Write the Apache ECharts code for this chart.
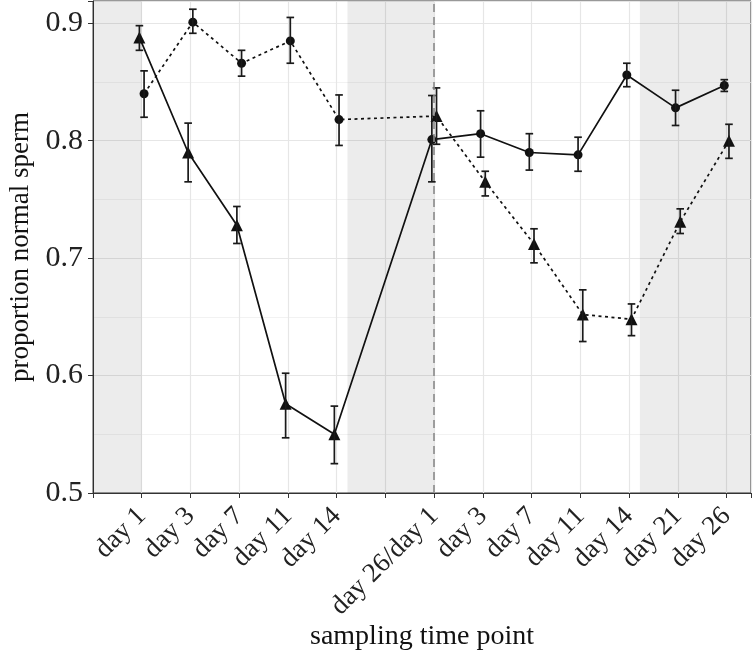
<!DOCTYPE html>
<html>
<head>
<meta charset="utf-8">
<script src="https://cdn.jsdelivr.net/npm/echarts@6/dist/echarts.min.js"></script>
<style>html,body{margin:0;padding:0;background:#fff;}#chart{width:756px;height:653px;}</style>
</head>
<body>
<div id="chart"></div>
<script>
// ---- data ----
const tickLabels = ['day 1','day 3','day 7','day 11','day 14','','day 26/day 1','day 3','day 7','day 11','day 14','day 21','day 26'];
const timeIndex = [0,1,2,3,4,6,7,8,9,10,11,12];
// group A (dotted line)
const groupAMean = [0.840,0.901,0.866,0.885,0.818,0.821,0.765,0.712,0.652,0.648,0.731,0.800];
const groupALow  = [0.820,0.8915,0.855,0.866,0.796,0.797,0.753,0.696,0.629,0.634,0.721,0.785];
const groupAHigh = [0.8595,0.912,0.877,0.905,0.839,0.845,0.774,0.725,0.673,0.661,0.742,0.814];
const groupAShape = ['circle','circle','circle','circle','circle','triangle','triangle','triangle','triangle','triangle','triangle','triangle'];
// group B (solid line)
const groupBMean = [0.888,0.790,0.728,0.576,0.550,0.801,0.806,0.790,0.788,0.856,0.828,0.847];
const groupBLow  = [0.877,0.765,0.7125,0.547,0.525,0.765,0.786,0.775,0.774,0.846,0.813,0.842];
const groupBHigh = [0.898,0.815,0.744,0.602,0.574,0.8385,0.8255,0.806,0.803,0.866,0.843,0.852];
const groupBShape = ['triangle','triangle','triangle','triangle','triangle','circle','circle','circle','circle','circle','circle','circle'];
// shaded phases (in time-index units)
const shadedPhases = [[-1,0],[4.22,6],[10.22,12.5]];
const phaseBoundary = 6;
const yTicks = [0.5,0.6,0.7,0.8,0.9];

// ---- build ----
const DODGE = 0.048;
const FONT = 'Liberation Serif';
function lineData(mean, shape, dodge){
  return timeIndex.map((t,i)=>({value:[t+dodge, mean[i]], symbol: shape[i], symbolSize: shape[i]==='triangle'?12:9}));
}
function errData(low, high, dodge){
  return timeIndex.map((t,i)=>[t+dodge, low[i], high[i]]);
}
function errRender(params, api){
  const x = api.value(0);
  const p1 = api.coord([x, api.value(1)]);
  const p2 = api.coord([x, api.value(2)]);
  const hw = 3.8;
  const st = {stroke:'#1a1a1a', lineWidth:1.7, fill:null};
  return {type:'group', children:[
    {type:'line', shape:{x1:p1[0],y1:p1[1],x2:p2[0],y2:p2[1]}, style:st},
    {type:'line', shape:{x1:p1[0]-hw,y1:p1[1],x2:p1[0]+hw,y2:p1[1]}, style:st},
    {type:'line', shape:{x1:p2[0]-hw,y1:p2[1],x2:p2[0]+hw,y2:p2[1]}, style:st}
  ]};
}

const chart = echarts.init(document.getElementById('chart'), null, {renderer:'canvas'});
chart.setOption({
  animation:false,
  backgroundColor:'#fff',
  grid:{left:93, right:5, top:1, bottom:160, show:true, borderColor:'#333', borderWidth:1, backgroundColor:'transparent'},
  xAxis:{
    type:'value', min:-1, max:12.5, interval:1,
    axisLine:{show:true, onZero:false, lineStyle:{color:'#333', width:1}},
    axisTick:{show:true, length:5, lineStyle:{color:'#333', width:1}},
    axisLabel:{rotate:45, margin:19, color:'#222', fontFamily:FONT, fontSize:27,
      formatter:(v)=>{const i=Math.round(v); return (i>=0 && i<tickLabels.length)? tickLabels[i] : '';}},
    splitLine:{show:true, lineStyle:{color:'#e6e6e6', width:1.2}}
  },
  yAxis:{
    type:'value', min:0.5, max:0.919, interval:0.1,
    axisLine:{show:true, onZero:false, lineStyle:{color:'#333', width:1}},
    axisTick:{show:true, length:5, lineStyle:{color:'#333', width:1}},
    axisLabel:{margin:10, color:'#222', fontFamily:FONT, fontSize:30,
      formatter:(v)=>{const m = yTicks.find(t=>Math.abs(t-v)<1e-6); return m===undefined?'':m.toFixed(1);}},
    splitLine:{show:true, lineStyle:{color:'#e6e6e6', width:1.2}},
    minorTick:{show:false, splitNumber:2},
    minorSplitLine:{show:true, lineStyle:{color:'#efefef', width:0.8}}
  },
  graphic:[{
    type:'text', x:21, y:247, rotation:Math.PI/2,
    style:{text:'proportion normal sperm', fontFamily:FONT, fontSize:27, fill:'#111', align:'center', verticalAlign:'middle'}
  },{
    type:'text', x:422, y:637,
    style:{text:'sampling time point', fontFamily:FONT, fontSize:28, fill:'#111', align:'center', verticalAlign:'middle'}
  }],
  series:[
    {type:'line', data:[], z:1, silent:true,
      markArea:{silent:true, itemStyle:{color:'rgba(0,0,0,0.075)'},
        data: shadedPhases.map(p=>[{xAxis:p[0]},{xAxis:p[1]}])},
      markLine:{silent:true, symbol:['none','none'], label:{show:false},
        lineStyle:{color:'#8a8a8a', type:[8,5], width:1.6},
        data:[{xAxis:phaseBoundary}]}
    },
    {name:'A', type:'line', z:3, data:lineData(groupAMean, groupAShape, DODGE),
      lineStyle:{color:'#111', width:1.7, type:[3,3.5]}, itemStyle:{color:'#111'}},
    {name:'B', type:'line', z:3, data:lineData(groupBMean, groupBShape, -DODGE),
      lineStyle:{color:'#111', width:1.7, type:'solid'}, itemStyle:{color:'#111'}},
    {type:'custom', z:4, renderItem:errRender, data:errData(groupALow, groupAHigh, DODGE), encode:{x:0, y:[1,2]}},
    {type:'custom', z:4, renderItem:errRender, data:errData(groupBLow, groupBHigh, -DODGE), encode:{x:0, y:[1,2]}}
  ]
});
</script>
</body>
</html>
